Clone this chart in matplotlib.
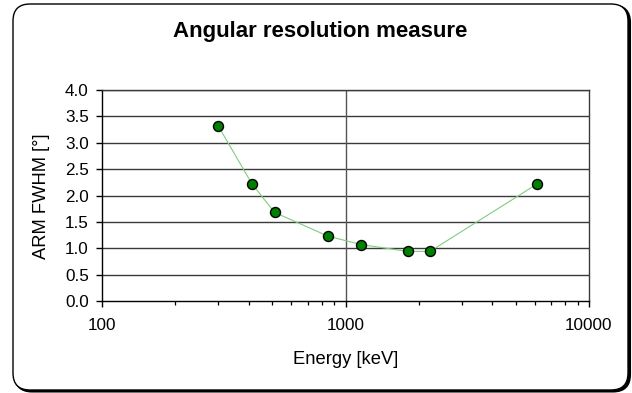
import matplotlib
matplotlib.use("Agg")
import matplotlib.pyplot as plt
from matplotlib.patches import FancyBboxPatch
from matplotlib.ticker import LogLocator, FixedLocator, NullFormatter

plt.rcParams['font.family'] = ['Liberation Sans', 'DejaVu Sans']

# gamma line energies and measured ARM widths
energy_kev = [300, 413, 511, 847, 1157, 1809, 2223, 6130]
arm_fwhm = [3.32, 2.22, 1.68, 1.23, 1.07, 0.94, 0.94, 2.22]

x_ticks = [100, 1000, 10000]
x_tick_labels = ["100", "1000", "10000"]
y_ticks = [0.0, 0.5, 1.0, 1.5, 2.0, 2.5, 3.0, 3.5, 4.0]

W, H = 632, 393
fig = plt.figure(figsize=(W / 100, H / 100), dpi=100)
fig.patch.set_facecolor("white")

# rounded chart frame with a dark shadow on the right and bottom
shadow = FancyBboxPatch((0.15, 0.015), 6.15, 3.86,
                        boxstyle="round,pad=0,rounding_size=0.17",
                        transform=fig.dpi_scale_trans, facecolor="black",
                        edgecolor="black", lw=1.5, zorder=0)
frame = FancyBboxPatch((0.13, 0.03), 6.15, 3.86,
                       boxstyle="round,pad=0,rounding_size=0.17",
                       transform=fig.dpi_scale_trans, facecolor="white",
                       edgecolor="black", lw=1.0, zorder=1)
fig.patches.extend([shadow, frame])

ax = fig.add_axes([102 / W, 1 - 301 / H, 487 / W, 211 / H])
ax.set_zorder(2)
ax.set_facecolor("white")

ax.plot(energy_kev, arm_fwhm, color="#80cc80", lw=0.8, zorder=3)
ax.plot(energy_kev, arm_fwhm, ls="none", marker="o", ms=7.2,
        markerfacecolor="#008000", markeredgecolor="black", mew=1.0, zorder=4)

ax.set_xscale("log")
ax.set_xlim(100, 10000)
ax.set_ylim(0, 4.0)

ax.xaxis.set_major_locator(FixedLocator(x_ticks))
ax.set_xticklabels(x_tick_labels)
ax.xaxis.set_minor_locator(LogLocator(base=10, subs=range(2, 10)))
ax.xaxis.set_minor_formatter(NullFormatter())
ax.set_yticks(y_ticks)
ax.set_yticklabels([f"{v:.1f}" for v in y_ticks])

for y in y_ticks[1:]:
    ax.axhline(y, color="#3a3a3a", lw=1.0, zorder=1)
ax.axvline(1000, color="#555555", lw=1.0, zorder=1)

for side in ("top", "right"):
    ax.spines[side].set_color("#3a3a3a")
    ax.spines[side].set_linewidth(1.0)
for side in ("left", "bottom"):
    ax.spines[side].set_color("black")
    ax.spines[side].set_linewidth(1.0)

ax.tick_params(axis="both", which="major", direction="out", length=4.5,
               width=1.0, labelsize=12.3, colors="black")
ax.tick_params(axis="x", which="major", pad=8)
ax.tick_params(axis="y", which="major", pad=5)
ax.tick_params(axis="x", which="minor", direction="out", length=3, width=0.9)

fig.text(320 / W, 1 - 31 / H, "Angular resolution measure", ha="center",
         va="center", fontsize=16, fontweight="bold", zorder=5)
fig.text(345.5 / W, 1 - 359 / H, "Energy [keV]", ha="center", va="center",
         fontsize=13.2, zorder=5)
fig.text(42 / W, 1 - 196 / H, "ARM FWHM [°]", ha="center", va="center",
         rotation=90, fontsize=13.2, zorder=5)

fig.savefig("out.png", dpi=100)
